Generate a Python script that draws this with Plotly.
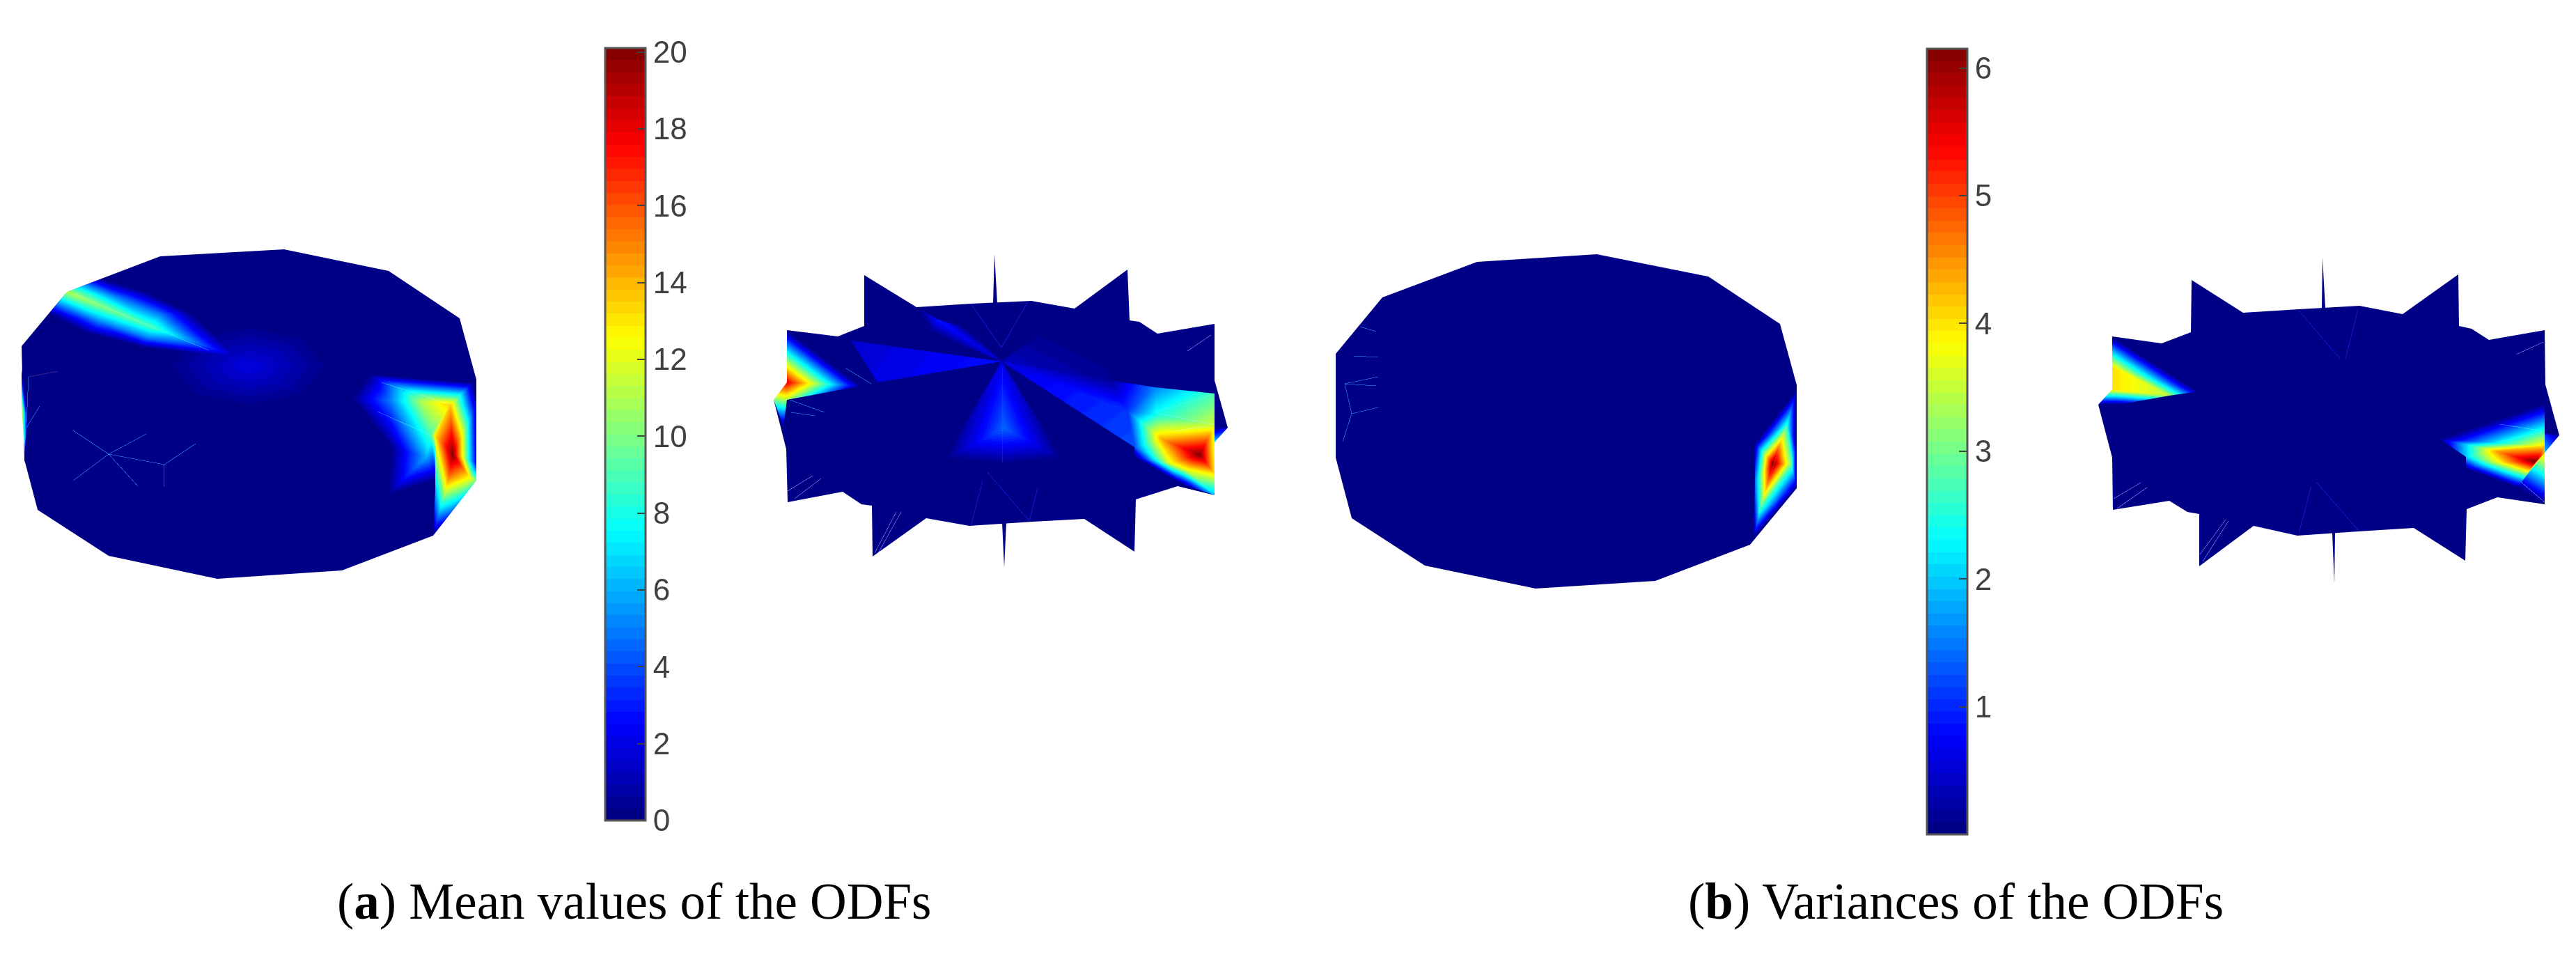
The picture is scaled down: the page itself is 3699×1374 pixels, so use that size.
import plotly.graph_objects as go

W, H = 3699, 1374
SHIFT = 8

# --- colour bars
mean_ticks = [0, 2, 4, 6, 8, 10, 12, 14, 16, 18, 20]
var_ticks = [1, 2, 3, 4, 5, 6]
mean_max = 20.1
var_max = 6.15

# --- panel 1 : mean values, first view
p1_rim_x = [31, 96, 230, 408, 558, 660, 684, 684, 622, 491, 312, 156, 54, 35]
p1_rim_y = [497, 419, 368, 358, 389, 457, 545, 690, 769, 819, 831, 798, 732, 660]
p1_center = (358, 595)
p1_glow_x = [357, 485, 448, 357, 266, 229, 266, 357, 448]
p1_glow_y = [526, 526, 572, 591, 572, 526, 480, 461, 480]
p1_glow_v = [1.9, 0, 0, 0, 0, 0, 0, 0, 0]
p1_glow_t = [(0, 1, 2), (0, 2, 3), (0, 3, 4), (0, 4, 5), (0, 5, 6), (0, 6, 7), (0, 7, 8), (0, 8, 1)]
p1_ul_x = [96, 220, 338, 147, 210, 274, 70, 128, 204, 169, 143, 231, 212]
p1_ul_y = [419, 470, 512, 400, 419, 449, 451, 480, 499, 427, 462, 452, 485]
p1_ul_v = [11, 9, 1, 0, 0, 0, 0, 0, 0, 5, 5, 5, 5]
p1_ul_t = [(0, 3, 9), (3, 4, 9), (0, 9, 1), (9, 11, 1), (9, 4, 11), (4, 5, 11), (5, 2, 11), (11, 2, 1),
           (0, 1, 10), (1, 12, 10), (0, 10, 6), (6, 10, 7), (10, 12, 8), (10, 8, 7), (1, 2, 12), (12, 2, 8)]
p1_hot_x = [529, 679, 504, 561, 606, 647, 684, 619, 650, 684, 676, 644, 684, 622, 612, 625, 555, 561, 625, 625]
p1_hot_y = [537, 549, 572, 575, 577, 581, 581, 625, 652, 664, 687, 686, 690, 769, 656, 690, 713, 644, 625, 702]
p1_hot_v = [0, 0, 0, 5, 11, 13.5, 1, 9, 20, 2, 12, 15, 10, 0, 6, 0, 0, 0, 13, 6]
p1_hot_t = [(0, 1, 5), (0, 5, 4), (0, 4, 3), (0, 3, 2), (1, 6, 5), (2, 3, 17), (3, 4, 7), (3, 7, 14), (3, 14, 17),
            (17, 14, 16), (16, 14, 15), (14, 7, 15), (4, 5, 7), (5, 18, 7), (7, 18, 15), (5, 8, 18), (5, 6, 8),
            (6, 9, 8), (18, 8, 11), (18, 11, 19), (19, 11, 13), (11, 10, 13), (8, 10, 11), (8, 9, 10), (9, 12, 10),
            (10, 12, 13)]
p1_sl_x = [31, 31, 35, 35, 40]
p1_sl_y = [530, 585, 640, 665, 600]
p1_sl_v = [0, 12, 8, 0, 0]
p1_sl_t = [(0, 1, 4), (1, 2, 4), (2, 3, 4)]

# --- panel 2 : mean values, second view
p2_rim_x = [1130, 1203, 1241, 1241, 1316, 1394, 1481, 1543, 1619, 1622, 1636, 1662, 1744, 1744, 1763, 1744, 1744,
            1691, 1631, 1629, 1557, 1483, 1392, 1330, 1253, 1252, 1237, 1210, 1131, 1129, 1111, 1130]
p2_rim_y = [474, 483, 468, 395, 441, 436, 432, 443, 387, 460, 462, 479, 465, 546, 614, 635, 711,
            698, 717, 792, 745, 749, 755, 744, 799, 726, 724, 706, 721, 645, 574, 549]
p2_center = (1438, 590)
p2_up_x = [1428, 1426, 1432]
p2_up_y = [365, 436, 436]
p2_dn_x = [1442, 1439, 1445]
p2_dn_y = [815, 750, 750]
p2_needle_v = [0, 0, 0]
needle_t = [(0, 1, 2)]
p2_band_x = [1222, 1260, 1438]
p2_band_y = [489, 549, 519]
p2_band_v = [1.5, 2, 2.8]
p2_streak_x = [1438, 1347, 1385, 1337, 1316]
p2_streak_y = [519, 459, 470, 476, 441]
p2_streak_v = [1.5, 3, 0, 0, 0]
p2_streak_t = [(0, 1, 2), (0, 3, 1), (1, 3, 4)]
p2_faint_x = [1438, 1509, 1580, 1595]
p2_faint_y = [519, 469, 500, 546]
p2_faint_v = [1.2, 0, 0, 0.5]
p2_faint_t = [(0, 1, 2), (0, 2, 3)]
p2_fan_x = [1438, 1442, 1356, 1442, 1526]
p2_fan_y = [519, 615, 660, 668, 660]
p2_fan_v = [2, 4.5, 0, 0, 0]
p2_fan_t = [(0, 2, 1), (2, 3, 1), (1, 3, 4), (0, 1, 4)]
p2_wedge_x = [1130, 1130, 1237, 1130, 1111, 1125]
p2_wedge_y = [474, 549, 554, 574, 574, 612]
p2_wedge_v = [0, 18, 0, 11, 10, 0]
p2_wedge_t = [(0, 2, 1), (1, 2, 3), (1, 3, 4), (3, 4, 5)]
p2_hot_x = [1438, 1595, 1658, 1744, 1744, 1662, 1619, 1629, 1667, 1723, 1744, 1744, 1744, 1630, 1691, 1709, 1680, 1704]
p2_hot_y = [519, 546, 556, 565, 611, 595, 590, 642, 630, 653, 638, 680, 711, 657, 692, 695, 665, 675]
p2_hot_v = [1.8, 0.5, 5, 9, 11.5, 8, 3.5, 4, 14, 20, 12, 13, 6, 0, 0, 3, 12, 12]
p2_hot_t = [(0, 1, 6), (0, 6, 7), (1, 2, 6), (2, 5, 6), (2, 3, 5), (3, 4, 5), (6, 5, 8), (6, 8, 7), (5, 4, 8),
            (4, 10, 9), (4, 9, 8), (8, 9, 16), (9, 17, 16), (7, 8, 16), (7, 16, 13), (13, 16, 14), (16, 17, 14),
            (17, 15, 14), (9, 10, 11), (9, 11, 17), (17, 11, 12), (17, 12, 15), (14, 15, 12)]
p2_edge_x = [1744, 1763, 1744]
p2_edge_y = [614, 614, 635]
p2_edge_v = [0, 1.5, 7]

# --- panel 3 : variances, first view
p3_rim_x = [1918, 1985, 2121, 2293, 2453, 2556, 2580, 2580, 2513, 2377, 2205, 2046, 1941, 1918]
p3_rim_y = [508, 427, 376, 365, 397, 465, 553, 701, 782, 834, 845, 812, 744, 657]
p3_center = (2250, 600)
p3_hot_x = [2546, 2566, 2527, 2520, 2520, 2518, 2580, 2580, 2580, 2572]
p3_hot_y = [666, 609, 734, 637, 690, 773, 559, 640, 701, 666]
p3_hot_v = [6.15, 2.5, 2.5, 0.1, 1.4, 0, 0, 0, 0, 3]
p3_hot_t = [(0, 3, 1), (3, 6, 1), (1, 6, 7), (0, 1, 9), (1, 7, 9), (9, 7, 8), (9, 8, 2), (0, 9, 2),
            (0, 2, 4), (2, 5, 4), (3, 0, 4), (2, 8, 5)]

# --- panel 4 : variances, second view
p4_rim_x = [3033, 3104, 3146, 3147, 3221, 3301, 3388, 3450, 3530, 3531, 3549, 3574, 3654, 3655, 3675, 3654, 3654,
            3586, 3542, 3540, 3466, 3386, 3299, 3236, 3158, 3158, 3141, 3115, 3034, 3033, 3013, 3033]
p4_rim_y = [483, 493, 477, 402, 449, 444, 439, 451, 394, 468, 472, 488, 474, 552, 625, 650, 724,
            714, 731, 805, 758, 763, 769, 755, 813, 738, 735, 719, 732, 657, 581, 559]
p4_center = (3340, 600)
p4_up_x = [3335, 3334, 3339]
p4_up_y = [370, 442, 442]
p4_dn_x = [3352, 3349, 3353]
p4_dn_y = [838, 765, 765]
p4_needle_v = [0, 0, 0]
p4_wedge_x = [3033, 3033, 3033, 3157, 3115, 3013, 3042]
p4_wedge_y = [483, 527, 559, 562, 568, 581, 581]
p4_wedge_v = [0, 4, 4, 0, 3.4, 0, 0]
p4_wedge_t = [(0, 3, 1), (1, 3, 4), (1, 4, 2), (2, 4, 6), (2, 6, 5)]
p4_hot_x = [3503, 3654, 3654, 3654, 3641, 3585, 3541, 3541, 3615, 3581, 3654]
p4_hot_y = [630, 579, 640, 650, 663, 648, 656, 672, 700, 663, 724]
p4_hot_v = [0, 0, 4, 4.2, 6.15, 4.4, 2, 0.2, 0, 3.5, 0]
p4_hot_t = [(0, 1, 2), (0, 2, 5), (0, 5, 6), (2, 3, 4), (2, 4, 5), (5, 4, 9), (6, 5, 9), (6, 9, 7), (7, 9, 8),
            (9, 4, 8), (3, 4, 8), (3, 8, 10)]
p4_edge_x = [3654, 3675, 3654]
p4_edge_y = [623, 625, 650]
p4_edge_v = [1, 0.2, 2]

# --- thin wire-frame traces on the surfaces (x0, y0, x1, y1)
teal_segments = [
    (108, 422, 220, 470), (220, 470, 300, 503), (548, 549, 647, 581), (542, 591, 619, 625),
    (156, 652, 105, 690), (156, 652, 210, 623), (156, 652, 105, 618), (156, 652, 198, 698),
    (156, 652, 236, 667), (236, 667, 236, 698), (236, 667, 281, 637), (38, 606, 41, 541),
    (57, 583, 38, 614), (1658, 592, 1739, 567), (1658, 592, 1744, 610), (1686, 619, 1734, 612),
    (1215, 529, 1251, 551), (1134, 574, 1184, 592), (1136, 592, 1170, 597), (1953, 469, 1976, 476),
    (1944, 511, 1979, 513), (1931, 551, 1979, 541), (1931, 551, 1976, 554), (1941, 594, 1979, 585),
    (1931, 551, 1941, 594), (1941, 594, 1928, 634), (3585, 635, 3652, 620), (3590, 609, 3652, 619),
]
pale_segments = [
    (1131, 705, 1167, 683), (1141, 716, 1179, 687), (1256, 794, 1287, 735), (1261, 794, 1294, 735),
    (1705, 504, 1739, 481), (3035, 716, 3074, 693), (3040, 730, 3083, 700), (3159, 796, 3196, 746),
    (3163, 806, 3200, 748), (3620, 692, 3654, 721), (3613, 509, 3652, 491),
]
faint_segments = [
    (1411, 691, 1394, 755), (1418, 678, 1478, 748), (1490, 701, 1478, 748), (1394, 436, 1438, 499),
    (1476, 433, 1438, 499), (1440, 529, 1440, 665), (3301, 446, 3361, 516), (3386, 443, 3368, 516),
    (3319, 698, 3301, 765), (3326, 692, 3386, 761),
]
dark_segments = [
    (647, 581, 619, 625), (41, 541, 83, 533), (2566, 609, 2524, 737),
]

# --- captions
caption_a = "(<b>a</b>) Mean values of the ODFs"
caption_b = "(<b>b</b>) Variances of the ODFs"


def jet(t):
    def ch(c):
        return max(0.0, min(1.0, 1.5 - abs(4 * t - c)))
    return "rgb(%d,%d,%d)" % (ch(3) * 255, ch(2) * 255, ch(1) * 255)


jet_scale = []
for n in range(64):
    col = jet((n + 0.5) / 64)
    jet_scale += [[n / 64, col], [(n + 1) / 64, col]]


def fan(center, xs, ys):
    x = [center[0]] + list(xs)
    y = [center[1]] + list(ys)
    m = len(xs)
    t = [(0, a + 1, (a + 1) % m + 1) for a in range(m)]
    return x, y, [0] * (m + 1), t


def mesh(patches, cmax, showscale=False, colorbar=None):
    X, Y, Z, V, I, J, K = [], [], [], [], [], [], []
    for layer, (x, y, v, t) in enumerate(patches):
        off = len(X)
        X += list(x)
        Y += [-a for a in y]
        Z += [layer] * len(x)
        V += list(v)
        for a, b, c in t:
            I.append(a + off)
            J.append(b + off)
            K.append(c + off)
    return go.Mesh3d(x=X, y=Y, z=Z, i=I, j=J, k=K, intensity=V, intensitymode="vertex",
                     colorscale=jet_scale, cmin=0, cmax=cmax, showscale=showscale, colorbar=colorbar,
                     flatshading=False, hoverinfo="skip",
                     lighting=dict(ambient=1, diffuse=0, specular=0, roughness=1, fresnel=0))


def wires(segments, color, width):
    x, y, z = [], [], []
    for x0, y0, x1, y1 in segments:
        x += [x0, x1, None]
        y += [-y0, -y1, None]
        z += [16, 16, None]
    return go.Scatter3d(x=x, y=y, z=z, mode="lines", line=dict(color=color, width=width), hoverinfo="skip",
                        showlegend=False)


def bar(left, top, length, ticks):
    return dict(x=left / W, xanchor="left", xref="paper", y=1 - top / H, yanchor="top", yref="paper",
                thickness=58, thicknessmode="pixels", len=length, lenmode="pixels", xpad=0, ypad=0,
                tickmode="array", tickvals=ticks, ticktext=[str(a) for a in ticks], ticks="inside", ticklen=13,
                tickwidth=2, tickcolor="#404040", outlinecolor="#555555", outlinewidth=3,
                tickfont=dict(family="Liberation Sans", size=44, color="#404040"))


fig = go.Figure()
fig.add_trace(mesh([fan(p1_center, p1_rim_x, p1_rim_y),
                    (p1_glow_x, p1_glow_y, p1_glow_v, p1_glow_t),
                    (p1_sl_x, p1_sl_y, p1_sl_v, p1_sl_t),
                    (p1_ul_x, p1_ul_y, p1_ul_v, p1_ul_t),
                    (p1_hot_x, p1_hot_y, p1_hot_v, p1_hot_t)],
                   mean_max, True, bar(861, 61, 1109, mean_ticks)))
fig.add_trace(mesh([fan(p2_center, p2_rim_x, p2_rim_y),
                    (p2_up_x, p2_up_y, p2_needle_v, needle_t),
                    (p2_dn_x, p2_dn_y, p2_needle_v, needle_t),
                    (p2_faint_x, p2_faint_y, p2_faint_v, p2_faint_t),
                    (p2_band_x, p2_band_y, p2_band_v, [(0, 1, 2)]),
                    (p2_streak_x, p2_streak_y, p2_streak_v, p2_streak_t),
                    (p2_fan_x, p2_fan_y, p2_fan_v, p2_fan_t),
                    (p2_edge_x, p2_edge_y, p2_edge_v, [(0, 1, 2)]),
                    (p2_wedge_x, p2_wedge_y, p2_wedge_v, p2_wedge_t),
                    (p2_hot_x, p2_hot_y, p2_hot_v, p2_hot_t)],
                   mean_max))
fig.add_trace(mesh([fan(p3_center, p3_rim_x, p3_rim_y),
                    (p3_hot_x, p3_hot_y, p3_hot_v, p3_hot_t)],
                   var_max, True, bar(2759, 62, 1128, var_ticks)))
fig.add_trace(mesh([fan(p4_center, p4_rim_x, p4_rim_y),
                    (p4_up_x, p4_up_y, p4_needle_v, needle_t),
                    (p4_dn_x, p4_dn_y, p4_needle_v, needle_t),
                    (p4_edge_x, p4_edge_y, p4_edge_v, [(0, 1, 2)]),
                    (p4_wedge_x, p4_wedge_y, p4_wedge_v, p4_wedge_t),
                    (p4_hot_x, p4_hot_y, p4_hot_v, p4_hot_t)],
                   var_max))
fig.add_trace(wires(teal_segments, "rgba(60,170,170,0.28)", 1))
fig.add_trace(wires(pale_segments, "rgba(170,170,230,0.4)", 1))
fig.add_trace(wires(faint_segments, "rgba(40,40,190,0.4)", 1))
fig.add_trace(wires(dark_segments, "rgba(120,70,60,0.4)", 1))

hidden = dict(visible=False, showgrid=False, zeroline=False, showticklabels=False, showspikes=False)
fig.update_layout(
    width=W, height=H, margin=dict(l=0, r=0, t=0, b=0, autoexpand=False), paper_bgcolor="white",
    showlegend=False,
    scene=dict(domain=dict(x=[0, 1], y=[0, 1]),
               xaxis=dict(range=[SHIFT, W + SHIFT], **hidden), yaxis=dict(range=[-H - SHIFT, -SHIFT], **hidden),
               zaxis=dict(range=[0, 20], **hidden),
               aspectmode="manual", aspectratio=dict(x=2 * W / H, y=2, z=0.1),
               bgcolor="rgba(0,0,0,0)",
               camera=dict(eye=dict(x=0, y=0, z=1.207), up=dict(x=0, y=1, z=0), center=dict(x=0, y=0, z=0),
                           projection=dict(type="orthographic"))),
    annotations=[
        dict(text=caption_a, x=903 / W, y=1 - 1286 / H, xref="paper", yref="paper", showarrow=False,
             xanchor="center", yanchor="middle",
             font=dict(family="Liberation Serif", size=73, color="black")),
        dict(text=caption_b, x=2800 / W, y=1 - 1286 / H, xref="paper", yref="paper", showarrow=False,
             xanchor="center", yanchor="middle",
             font=dict(family="Liberation Serif", size=73, color="black")),
    ],
)
fig.write_html("out.html")
